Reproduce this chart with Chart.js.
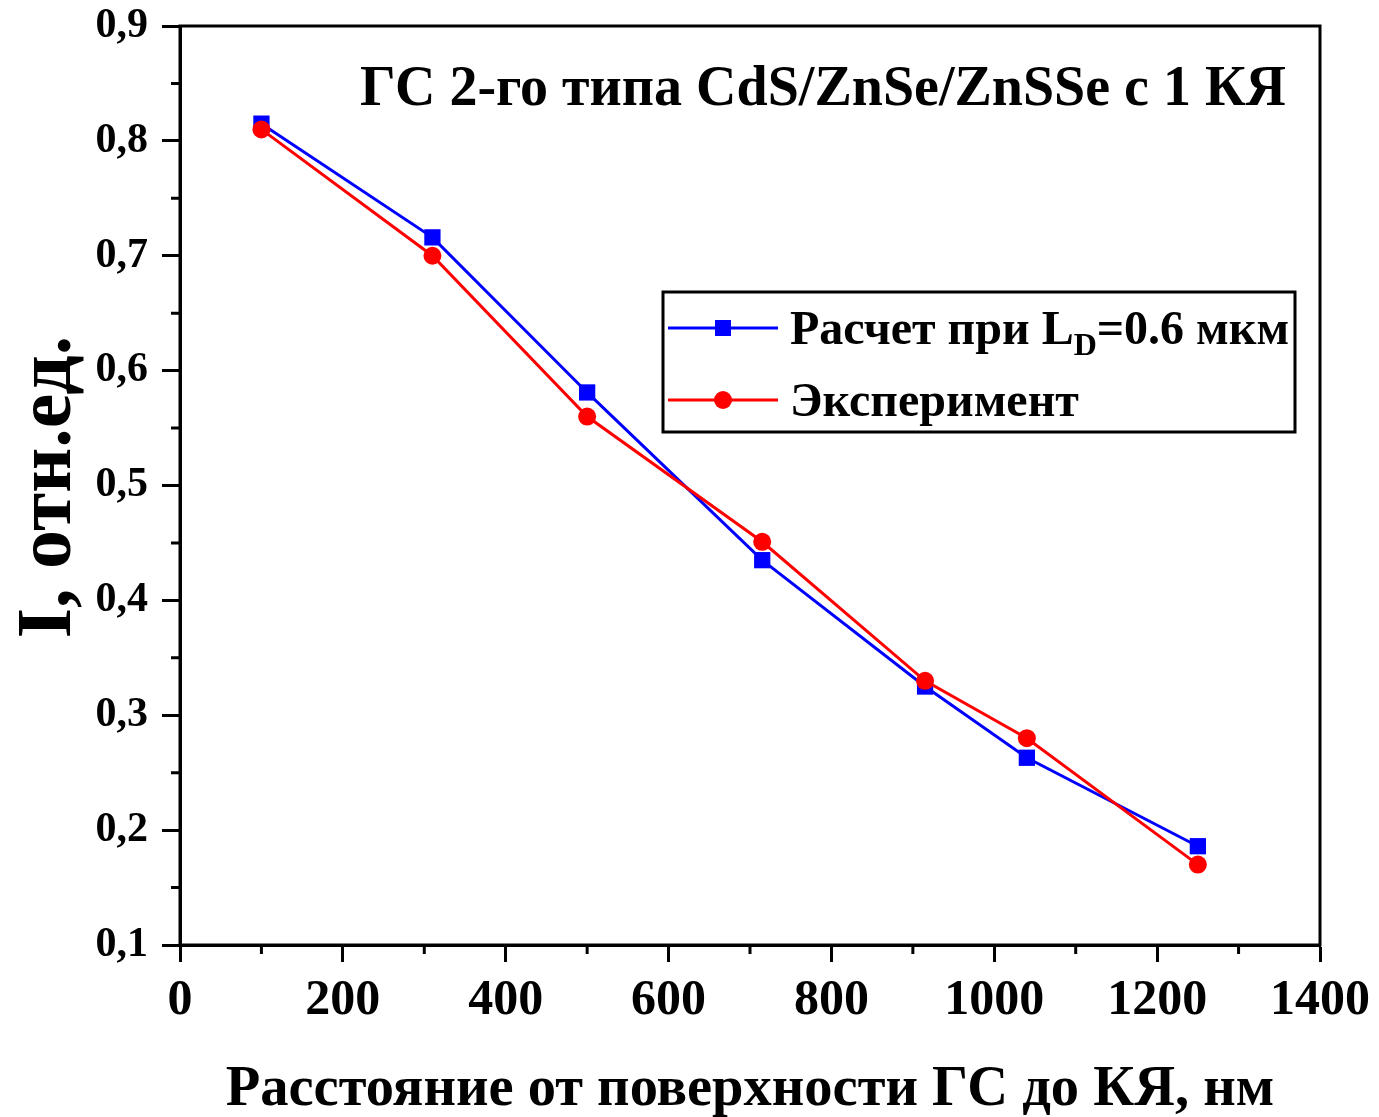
<!DOCTYPE html>
<html>
<head>
<meta charset="utf-8">
<script src="https://cdn.jsdelivr.net/npm/chart.js@4/dist/chart.umd.min.js"></script>
<style>
  html, body { margin: 0; padding: 0; background: #fff; }
  #wrap { width: 1379px; height: 1117px; }
</style>
</head>
<body>
<div id="wrap"><canvas id="c" width="1379" height="1117"></canvas></div>
<script>
// ---- data ----
const distances = [100, 310, 500, 715, 915, 1040, 1250];
const calcValues = [0.815, 0.716, 0.581, 0.435, 0.325, 0.263, 0.186];
const expValues = [0.810, 0.700, 0.560, 0.451, 0.330, 0.280, 0.170];
const yTicks = [0.1, 0.2, 0.3, 0.4, 0.5, 0.6, 0.7, 0.8, 0.9];
const xTicks = [0, 200, 400, 600, 800, 1000, 1200, 1400];
const yMinor = [0.15, 0.25, 0.35, 0.45, 0.55, 0.65, 0.75, 0.85];
const xMinor = [100, 300, 500, 700, 900, 1100, 1300];
const calcLabel = ['Расчет при L', 'D', '=0.6 мкм'];
const expLabel = 'Эксперимент';
const chartTitle = 'ГС 2-го типа CdS/ZnSe/ZnSSe с 1 КЯ';
const xTitle = 'Расстояние от поверхности ГС до КЯ, нм';
const yTitle = 'I, отн.ед.';

const FONT = '"Liberation Serif", "Times New Roman", serif';
const BLUE = '#0000ff';
const RED = '#ff0000';

const framePlugin = {
  id: 'frame',
  afterDraw(chart) {
    const ctx = chart.ctx;
    const a = chart.chartArea;
    const xs = chart.scales.x, ys = chart.scales.y;
    ctx.save();
    ctx.strokeStyle = '#000';
    ctx.lineWidth = 3;
    ctx.strokeRect(a.left, a.top, a.right - a.left, a.bottom - a.top);
    // minor ticks
    ctx.beginPath();
    yMinor.forEach(v => {
      const p = ys.getPixelForValue(v);
      ctx.moveTo(a.left - 9, p); ctx.lineTo(a.left, p);
    });
    xMinor.forEach(v => {
      const p = xs.getPixelForValue(v);
      ctx.moveTo(p, a.bottom); ctx.lineTo(p, a.bottom + 9);
    });
    ctx.stroke();

    // title inside plot
    ctx.fillStyle = '#000';
    ctx.font = 'bold 56px ' + FONT;
    ctx.textAlign = 'right';
    ctx.textBaseline = 'alphabetic';
    ctx.fillText(chartTitle, 1286, 105);

    // axis titles
    ctx.font = 'bold 56.5px ' + FONT;
    ctx.textAlign = 'center';
    ctx.fillText(xTitle, 750, 1105);
    ctx.save();
    ctx.translate(70, 487);
    ctx.rotate(-Math.PI / 2);
    ctx.font = 'bold 78px ' + FONT;
    ctx.fillText(yTitle, 0, 0);
    ctx.restore();

    // legend
    const lx = 663, ly = 292, lw = 632, lh = 140;
    ctx.lineWidth = 3;
    ctx.strokeStyle = '#000';
    ctx.fillStyle = '#fff';
    ctx.fillRect(lx, ly, lw, lh);
    ctx.strokeRect(lx, ly, lw, lh);
    const ds = chart.data.datasets;
    const rows = [{d: ds[0], y: 328}, {d: ds[1], y: 400}];
    rows.forEach(r => {
      ctx.strokeStyle = r.d.borderColor;
      ctx.lineWidth = 3;
      ctx.beginPath();
      ctx.moveTo(668, r.y); ctx.lineTo(778, r.y);
      ctx.stroke();
      ctx.fillStyle = r.d.backgroundColor;
      if (r.d.pointStyle === 'rect') {
        ctx.fillRect(723 - 8, r.y - 8, 16, 16);
      } else {
        ctx.beginPath();
        ctx.arc(723, r.y, 9, 0, Math.PI * 2);
        ctx.fill();
      }
    });
    ctx.fillStyle = '#000';
    ctx.textAlign = 'left';
    ctx.font = 'bold 48px ' + FONT;
    let x0 = 790;
    ctx.fillText(calcLabel[0], x0, 344);
    x0 += ctx.measureText(calcLabel[0]).width;
    ctx.font = 'bold 32px ' + FONT;
    ctx.fillText(calcLabel[1], x0, 355);
    x0 += ctx.measureText(calcLabel[1]).width;
    ctx.font = 'bold 48px ' + FONT;
    ctx.fillText(calcLabel[2], x0, 344);
    ctx.fillText(expLabel, 790, 416);
    ctx.restore();
  }
};

new Chart(document.getElementById('c'), {
  type: 'line',
  data: {
    datasets: [
      {
        label: calcLabel.join(''),
        data: distances.map((x, i) => ({x, y: calcValues[i]})),
        borderColor: BLUE, backgroundColor: BLUE,
        borderWidth: 3, pointStyle: 'rect', pointRadius: 11.5,
        pointBorderWidth: 0, tension: 0, order: 1
      },
      {
        label: expLabel,
        data: distances.map((x, i) => ({x, y: expValues[i]})),
        borderColor: RED, backgroundColor: RED,
        borderWidth: 3, pointStyle: 'circle', pointRadius: 9,
        pointBorderWidth: 0, tension: 0, order: 0
      }
    ]
  },
  options: {
    responsive: false,
    animation: false,
    devicePixelRatio: 1,
    layout: { padding: { top: 26, right: 59, left: 0, bottom: 0 } },
    plugins: { legend: { display: false }, tooltip: { enabled: false } },
    scales: {
      x: {
        type: 'linear', min: 0, max: 1400,
        afterBuildTicks: s => { s.ticks = xTicks.map(v => ({value: v})); },
        afterFit: s => { s.height = 172; s.paddingLeft = 0; s.paddingRight = 0; },
        grid: { drawOnChartArea: false, drawTicks: true, tickLength: 17, tickWidth: 3, tickColor: '#000' },
        border: { display: true, color: '#000', width: 3 },
        ticks: { color: '#000', padding: 9, maxRotation: 0, autoSkip: false,
          font: { family: FONT, size: 50, weight: 'bold' },
          callback: v => String(v) }
      },
      y: {
        type: 'linear', min: 0.1, max: 0.9,
        afterBuildTicks: s => { s.ticks = yTicks.map(v => ({value: v})); },
        afterFit: s => { s.width = 180; s.paddingTop = 0; s.paddingBottom = 0; },
        grid: { drawOnChartArea: false, drawTicks: true, tickLength: 18, tickWidth: 3, tickColor: '#000' },
        border: { display: true, color: '#000', width: 3 },
        ticks: { color: '#000', padding: 14, autoSkip: false,
          font: { family: FONT, size: 42, weight: 'bold' },
          callback: v => v.toFixed(1).replace('.', ',') }
      }
    }
  },
  plugins: [framePlugin]
});
</script>
</body>
</html>
